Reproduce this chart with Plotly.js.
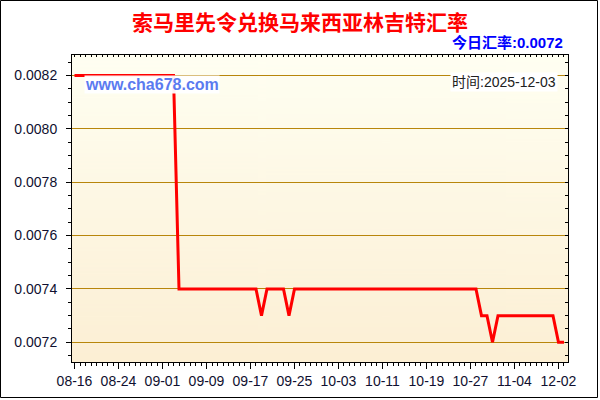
<!DOCTYPE html>
<html>
<head>
<meta charset="utf-8">
<script src="https://cdn.plot.ly/plotly-3.0.1.min.js"></script>
<style>
  html, body { margin: 0; padding: 0; background: #ffffff; }
  #chart { width: 600px; height: 400px; }
</style>
</head>
<body>
<div id="chart"></div>
<script>
// ---- data ----
const chartTitle = '索马里先令兑换马来西亚林吉特汇率';
const todayLabel = '今日汇率:0.0072';
const timeLabel = '时间:2025-12-03';
const watermark = 'www.cha678.com';

// tick labels on the x axis and the point index each sits on
const tickLabels = ['08-16','08-24','09-01','09-09','09-17','09-25','10-03','10-11','10-19','10-27','11-04','12-02'];
const tickIndex  = [0, 8, 16, 24, 32, 40, 48, 56, 64, 72, 80, 88];

// daily rate, one value per point (90 points)
const rates = [
  0.0082, 0.0082, 0.0082, 0.0082, 0.0082, 0.0082, 0.0082, 0.0082, 0.0082, 0.0082,
  0.0082, 0.0082, 0.0082, 0.0082, 0.0082, 0.0082, 0.0082, 0.0082, 0.0082, 0.0074,
  0.0074, 0.0074, 0.0074, 0.0074, 0.0074, 0.0074, 0.0074, 0.0074, 0.0074, 0.0074,
  0.0074, 0.0074, 0.0074, 0.0074, 0.0073, 0.0074, 0.0074, 0.0074, 0.0074, 0.0073,
  0.0074, 0.0074, 0.0074, 0.0074, 0.0074, 0.0074, 0.0074, 0.0074, 0.0074, 0.0074,
  0.0074, 0.0074, 0.0074, 0.0074, 0.0074, 0.0074, 0.0074, 0.0074, 0.0074, 0.0074,
  0.0074, 0.0074, 0.0074, 0.0074, 0.0074, 0.0074, 0.0074, 0.0074, 0.0074, 0.0074,
  0.0074, 0.0074, 0.0074, 0.0074, 0.0073, 0.0073, 0.0072, 0.0073, 0.0073, 0.0073,
  0.0073, 0.0073, 0.0073, 0.0073, 0.0073, 0.0073, 0.0073, 0.0073, 0.0072, 0.0072
];
const pointIndex = rates.map((_, i) => i);

// ---- layout geometry ----
const W = 600, H = 400;
const M = { l: 72, r: 32, t: 55, b: 38 };
const pw = W - M.l - M.r, ph = H - M.t - M.b;
const px2x = px => (px - M.l) / pw;
const py2y = py => (H - M.b - py) / ph;

const xRange = [-0.4545, 89.73];
const yRange = [0.0071262, 0.0082768];

// gradient background for the plot area
function gradientURL() {
  const c = document.createElement('canvas');
  c.width = 4; c.height = 300;
  const g = c.getContext('2d');
  const grd = g.createLinearGradient(0, 0, 0, 300);
  grd.addColorStop(0, '#FFFFF2');
  grd.addColorStop(1, '#FCEFD4');
  g.fillStyle = grd;
  g.fillRect(0, 0, 4, 300);
  return c.toDataURL('image/png');
}

const tickFont = { family: 'Liberation Sans, Arial, sans-serif', size: 14, color: '#101030' };

const traces = [
  {
    x: pointIndex, y: rates, type: 'scatter', mode: 'lines',
    line: { color: '#FF0000', width: 3 },
    hoverinfo: 'skip', showlegend: false
  },
  {
    x: pointIndex, y: rates, type: 'scatter', mode: 'lines',
    xaxis: 'x2', yaxis: 'y2', opacity: 0,
    line: { color: '#FF0000', width: 0 },
    hoverinfo: 'skip', showlegend: false
  }
];

const layout = {
  width: W, height: H,
  margin: M,
  paper_bgcolor: '#FFFFFF',
  plot_bgcolor: 'rgba(0,0,0,0)',
  showlegend: false,
  title: {
    text: '<b>' + chartTitle + '</b>',
    font: { family: '"Noto Sans CJK SC", sans-serif', size: 21, color: '#FF0000' },
    x: 0.5, xanchor: 'center', xref: 'container',
    y: 1 - 23 / H, yanchor: 'middle', yref: 'container'
  },
  xaxis: {
    range: xRange, tickmode: 'array', tickvals: tickIndex, ticktext: tickLabels,
    ticks: 'outside', ticklen: 6, tickwidth: 1, tickcolor: '#000',
    showline: true, linecolor: '#000', linewidth: 1,
    showgrid: false, zeroline: false, tickfont: tickFont,
    minor: { tick0: 0, dtick: 1, ticks: 'outside', ticklen: 3, tickcolor: '#000', showgrid: false }
  },
  yaxis: {
    range: yRange, tickmode: 'linear', tick0: 0.0072, dtick: 0.0002, tickformat: '.4f',
    ticks: 'outside', ticklen: 5, tickwidth: 1, tickcolor: '#000',
    showline: true, linecolor: '#000', linewidth: 1,
    showgrid: true, gridcolor: '#B8860B', gridwidth: 1,
    zeroline: false, tickfont: tickFont, ticklabelstandoff: 6,
    minor: { tick0: 0.0072, dtick: 0.00005, ticks: 'outside', ticklen: 3, tickcolor: '#000', showgrid: false }
  },
  xaxis2: {
    overlaying: 'x', side: 'top', anchor: 'y', range: xRange,
    tickmode: 'linear', tick0: 0, dtick: 1,
    ticks: 'inside', ticklen: 2, tickcolor: '#000',
    showline: true, linecolor: '#000', linewidth: 1,
    showticklabels: false, showgrid: false, zeroline: false
  },
  yaxis2: {
    overlaying: 'y', side: 'right', anchor: 'x', range: yRange,
    tickmode: 'linear', tick0: 0.0072, dtick: 0.00005,
    ticks: 'inside', ticklen: 3, tickcolor: '#000',
    showline: true, linecolor: '#000', linewidth: 1,
    showticklabels: false, showgrid: false, zeroline: false
  },
  images: [{
    source: gradientURL(), xref: 'paper', yref: 'paper',
    x: 0, y: 1, sizex: 1, sizey: 1, sizing: 'stretch',
    xanchor: 'left', yanchor: 'top', layer: 'below'
  }],
  shapes: [{
    type: 'rect', xref: 'paper', yref: 'paper',
    x0: px2x(0.5), x1: px2x(597.5), y0: py2y(0.5), y1: py2y(397.5),
    line: { color: '#000', width: 1 }, fillcolor: 'rgba(0,0,0,0)'
  }],
  annotations: [
    {
      text: '<b>' + todayLabel + '</b>', showarrow: false,
      xref: 'paper', yref: 'paper', x: px2x(565), y: py2y(43),
      xanchor: 'right', yanchor: 'middle',
      font: { family: 'Liberation Sans, "Noto Sans CJK SC", sans-serif', size: 15, color: '#0000FF' }
    },
    {
      text: timeLabel, showarrow: false,
      xref: 'paper', yref: 'paper', x: px2x(558), y: py2y(82),
      xanchor: 'right', yanchor: 'middle', bgcolor: '#FFFFFF', borderpad: 1,
      font: { family: 'Liberation Sans, "Noto Sans CJK SC", sans-serif', size: 14, color: '#202020' }
    },
    {
      text: '<b>' + watermark + '</b>', showarrow: false,
      xref: 'paper', yref: 'paper', x: px2x(152), y: py2y(85),
      xanchor: 'center', yanchor: 'top', bgcolor: 'rgba(255,255,255,0.95)', borderpad: 0,
      yshift: 10.5,
      font: { family: 'Liberation Sans, Arial, sans-serif', size: 16, color: '#5B7BF0' }
    }
  ]
};

Plotly.newPlot('chart', traces, layout, { staticPlot: true, displayModeBar: false });
</script>
</body>
</html>
